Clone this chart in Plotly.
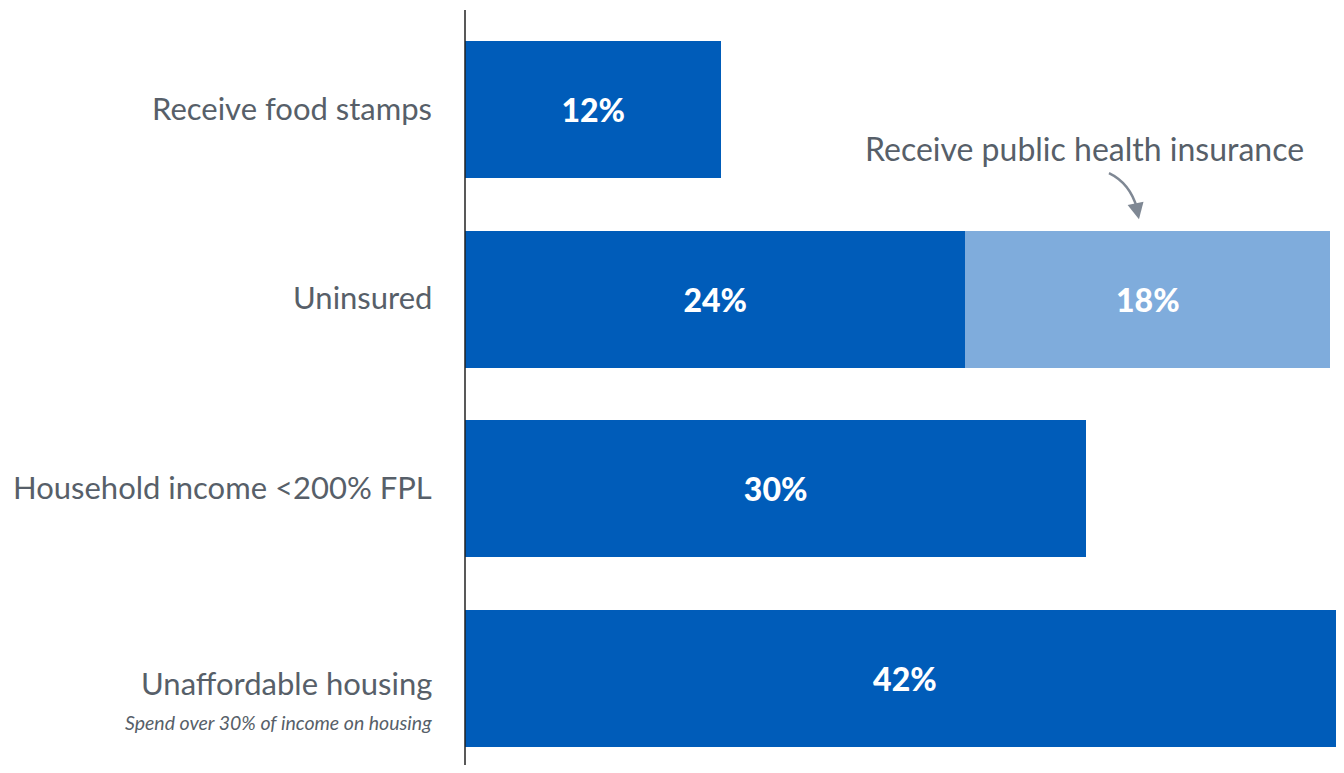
import plotly.graph_objects as go

categories = ["Receive food stamps", "Uninsured", "Household income <200% FPL", "Unaffordable housing"]
primary_values = [12.3, 24.0, 29.8, 42.2]
primary_labels = ["12%", "24%", "30%", "42%"]
secondary_values = [None, 17.5, None, None]
secondary_labels = ["", "18%", "", ""]
subtitle = "Spend over 30% of income on housing"
callout = "Receive public health insurance"

DARK = "#005cb9"
LIGHT = "#7facdc"
GRAY = "#575f69"
LABEL_FONT = "Lato"

fig = go.Figure()
fig.add_trace(go.Bar(
    y=categories, x=primary_values, orientation="h",
    marker=dict(color=DARK, line=dict(width=0)),
    text=primary_labels, textposition="inside", insidetextanchor="middle",
    textfont=dict(family="Lato", size=32, color="white", weight=900),
    hoverinfo="skip",
))
fig.add_trace(go.Bar(
    y=categories, x=secondary_values, orientation="h",
    marker=dict(color=LIGHT, line=dict(width=0)),
    text=secondary_labels, textposition="inside", insidetextanchor="middle",
    textfont=dict(family="Lato", size=32, color="white", weight=900),
    hoverinfo="skip",
))

annotations = []
for i, c in enumerate(categories):
    annotations.append(dict(
        x=0, xref="paper", y=i, yref="y", text=c, showarrow=False,
        xanchor="right", yanchor="middle", xshift=-31,
        yshift=(-5 if i == 3 else 2),
        font=dict(family=LABEL_FONT, size=31, color=GRAY),
    ))
annotations.append(dict(
    x=0, xref="paper", y=3, yref="y", text="<i>" + subtitle + "</i>", showarrow=False,
    xanchor="right", yanchor="middle", xshift=-31, yshift=-44,
    font=dict(family=LABEL_FONT, size=19.5, color=GRAY),
))
annotations.append(dict(
    x=(1085 - 465) / 20.85, xref="x", y=(148 - 14.75) / 189.5 - 0.5, yref="y",
    text=callout, showarrow=False, xanchor="center", yanchor="middle",
    font=dict(family=LABEL_FONT, size=32, color=GRAY),
))
# arrowhead
annotations.append(dict(
    x=(1139 - 465) / 20.85, y=(219 - 14.75) / 189.5 - 0.5, xref="x", yref="y",
    ax=-3, ay=-14, text="", showarrow=True, arrowhead=2, arrowsize=1.3,
    arrowwidth=2.5, arrowcolor="#7f8894",
))

def px2x(p):
    return (p - 465) / 20.85

def py2y(p):
    return (p - 14.75) / 189.5 - 0.5

path = "M {:.3f},{:.3f} Q {:.3f},{:.3f} {:.3f},{:.3f}".format(
    px2x(1109), py2y(173), px2x(1130), py2y(183), px2x(1137), py2y(208))

PLOT_H = 750
fig.update_layout(
    barmode="stack", bargap=0.277,
    width=1336, height=757,
    margin=dict(l=457, r=0, t=7, b=0),
    paper_bgcolor="white", plot_bgcolor="white",
    showlegend=False,
    xaxis=dict(range=[0, 42.16], visible=False, fixedrange=True),
    yaxis=dict(range=[-0.5 + PLOT_H / 189.5, -0.5], showticklabels=False, showgrid=False,
               zeroline=False, showline=False, fixedrange=True),
    annotations=annotations,
    shapes=[
        dict(type="line", xref="paper", yref="paper", x0=0, x1=0, y0=-0.02, y1=(PLOT_H + 5) / PLOT_H,
             line=dict(color="#222222", width=1.5)),
        dict(type="path", xref="x", yref="y", path=path,
             line=dict(color="#7f8894", width=2.5)),
    ],
)

fig.write_html("out.html")
